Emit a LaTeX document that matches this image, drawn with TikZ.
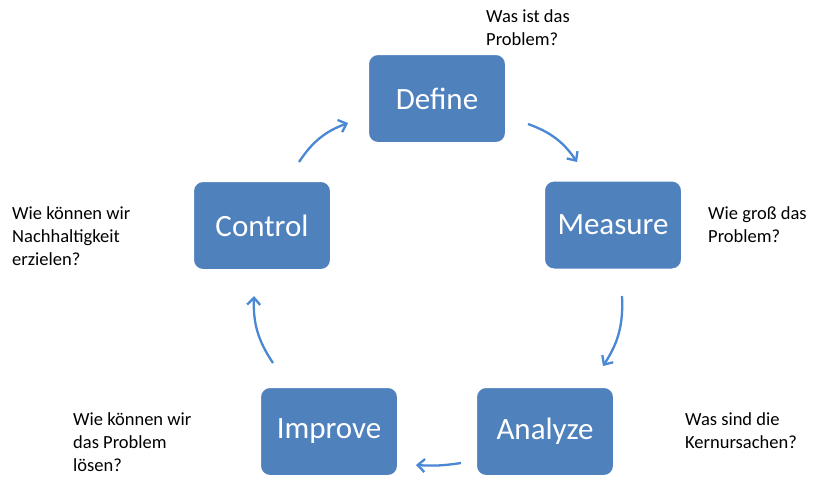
\documentclass[tikz,border=0pt]{standalone}
\usepackage{fontspec}
\setmainfont{Carlito}
\usetikzlibrary{arrows.meta}
\definecolor{boxblue}{HTML}{4F81BD}
\definecolor{arrblue}{HTML}{4A87D4}
\begin{document}
\begin{tikzpicture}[x=1pt,y=-1pt,
  stepbox/.style={draw=white,line width=2pt,fill=boxblue,rounded corners=10pt,
    minimum width=138pt,minimum height=89pt,text=white,font=\fontsize{31}{36}\selectfont,inner sep=0pt},
  note/.style={anchor=north west,align=left,font=\fontsize{18.5}{23}\selectfont,inner sep=0pt},
  cyc/.style={draw=arrblue,line width=2.3pt,-{Straight Barb[length=7pt,width=13pt,line width=2.3pt]},bend left=18}]
\useasboundingbox[fill=white] (0,0) rectangle (840,488);
\node[stepbox] (define) at (437,98.5) {Define};
\node[stepbox] (measure) at (613,225) {Measure};
\node[stepbox] (analyze) at (545,431.5) {Analyze};
\node[stepbox] (improve) at (329,431.5) {Improve};
\node[stepbox] (control) at (262,225.5) {Control};
\node[note] (n1) at (486,9) {Was ist das\\Problem?};
\node[note] (n2) at (708,206) {Wie groß das\\Problem?};
\node[note] (n3) at (685,412) {Was sind die\\Kernursachen?};
\node[note] (n4) at (73,412) {Wie können wir\\das Problem\\lösen?};
\node[note] (n5) at (12,206) {Wie können wir\\Nachhaltigkeit\\erzielen?};
\coordinate (a1s) at (528,124); \coordinate (a1e) at (577,162);
\coordinate (a2s) at (622,296); \coordinate (a2e) at (603,366);
\coordinate (a3s) at (461,463); \coordinate (a3e) at (416,465);
\coordinate (a4s) at (273,363); \coordinate (a4e) at (254,296);
\coordinate (a5s) at (299,162); \coordinate (a5e) at (348,123);
\draw[cyc] (a1s) to (a1e);
\draw[cyc] (a2s) to (a2e);
\draw[cyc,bend left=6] (a3s) to (a3e);
\draw[cyc] (a4s) to (a4e);
\draw[cyc] (a5s) to (a5e);
\end{tikzpicture}
\end{document}
